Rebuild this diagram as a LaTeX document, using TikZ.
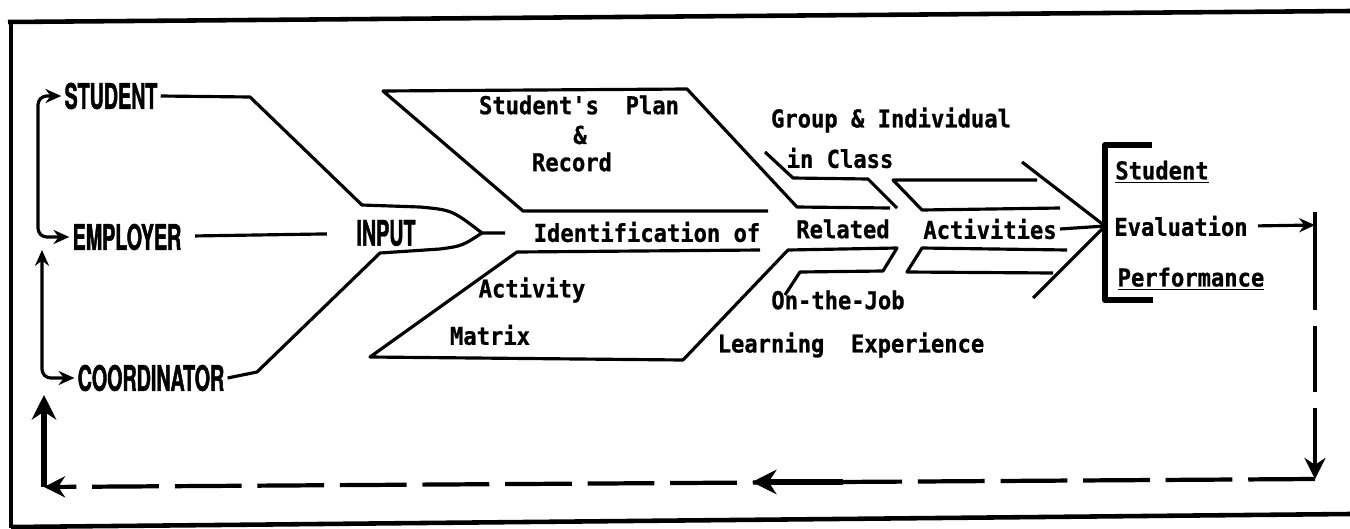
\documentclass[tikz,border=0pt]{standalone}
\usepackage{fontspec}
\usepackage{graphicx}
\usetikzlibrary{arrows.meta}

\newfontfamily\capsfont{TeX Gyre Heros}[FakeStretch=0.56,FakeBold=1.2]
\newfontfamily\typed{DejaVu Sans Mono}[FakeStretch=0.9,FakeBold=0.8]

\begin{document}
\begin{tikzpicture}[x=0.02cm,y=-0.02cm,line width=1.8pt,line join=round,
    >={Stealth[length=9pt,width=8pt]}]
  \tikzstyle{who}=[inner sep=1pt,font=\capsfont\bfseries\fontsize{20}{22}\selectfont]
  \tikzstyle{tw}=[inner sep=1pt,font=\typed\bfseries\fontsize{14}{16}\selectfont]
  \tikzstyle{fat}=[line width=3.6pt,>={Stealth[length=14pt,width=14pt]}]
  \tikzstyle{dashline}=[line width=2.4pt,dash pattern=on 38pt off 9pt,
    >={Stealth[length=12pt,width=12pt]}]

  \useasboundingbox (0,0) rectangle (1350,528);

  % frame
  \draw[line width=2.6pt] (8,22) -- (1350,11);
  \draw[line width=2.6pt] (11,22) -- (11,528);
  \draw[line width=2.6pt] (11,527) -- (1350,514);

  % the three parties and the funnel
  \node[who] (student) at (111,96) {STUDENT};
  \node[who] (employer) at (127,237) {EMPLOYER};
  \node[who] (coord) at (151,378) {COORDINATOR};
  \node[who] (input) at (386,233) {INPUT};
  \coordinate (tip) at (482,233);

  \draw (student.east) -- (250,97) -- (362,205) -- (420,207)
        .. controls (452,210) .. (tip) -- (505,233);
  \draw (coord.east) -- (257,372) -- (380,253) -- (440,249)
        .. controls (462,246) .. (tip);
  \draw[shorten <=6pt,shorten >=15pt] (employer) -- (input);

  % plan & record / activity matrix
  \draw (768,211) -- (523,211) -- (383,91) -- (687,89) -- (797,207) -- (890,208);
  \draw (765,152) -- (793,178) -- (868,179) -- (897,208);
  \draw (760,250) -- (517,252) -- (370,357) -- (683,360) -- (788,250)
        -- (897,248) -- (883,271) -- (800,272) -- (785,295);

  \node[tw] (plan) at (579,105) {Student's~~Plan};
  \node[tw] (amp) at (580,135) {\&};
  \node[tw] (record) at (572,162) {Record};
  \node[tw] (ident) at (647,232) {Identification of};
  \node[tw] (activity) at (532,290) {Activity};
  \node[tw] (matrix) at (490,335) {Matrix};

  \node[tw] (group) at (891,120) {Group \& Individual};
  \node[tw] (inclass) at (840,158) {in Class};
  \node[tw] (related) at (843,229) {Related};
  \node[tw] (activ) at (990,229) {Activities};
  \node[tw] (onjob) at (838,300) {On-the-Job};
  \node[tw] (learning) at (851,345) {Learning~~Experience};

  % arrow into the evaluation
  \coordinate (point) at (1105,226);
  \draw (1037,180) -- (893,180) -- (922,210) -- (1060,208);
  \draw (1067,250) -- (922,248) -- (907,272) -- (1053,273);
  \draw (1022,162) -- (point) -- (1033,298);
  \draw (activ.east) -- (point);

  \draw[fat] (1152,145) -- (1105,145) -- (1105,300) -- (1153,300);
  \node[tw] (evstud) at (1162,172) {\underline{Student}};
  \node[tw] (eval) at (1181,226) {Evaluation};
  \node[tw] (perf) at (1191,279) {\underline{Performance}};

  % feedback loop
  \coordinate (turn) at (1315,479);
  \coordinate (corner) at (44,487);
  \coordinate (back) at (44,395);
  \draw[->,shorten <=4pt] (eval.east) -- (1315,225);
  \draw (1315,212) -- (1315,243);
  \draw[dashline,->] (1315,243) -- (turn);
  \draw[dashline,->] (turn) -- (corner);
  \draw[fat,->] (843,482) -- (752,482);
  \draw[fat,->] (corner) -- (back);

  \draw[<->,rounded corners=5pt] (student.west) -| (38,170) |- (employer.west);
  \draw[<->,rounded corners=5pt] (42,250) |- (coord.west);
\end{tikzpicture}
\end{document}
